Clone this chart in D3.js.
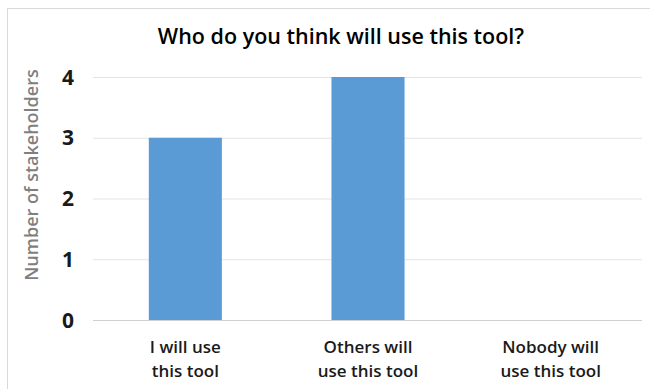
<!DOCTYPE html>
<html><head><meta charset="utf-8">
<script src="https://cdn.jsdelivr.net/npm/d3@7"></script>
<style>body{margin:0;background:#fff;} text{font-family:"Open Sans",sans-serif;}</style>
</head><body><svg id="c" width="650" height="389"></svg>
<script>
const categories = [["I will use","this tool"],["Others will","use this tool"],["Nobody will","use this tool"]];
const values = [3, 4, 0];
const yTicks = [0, 1, 2, 3, 4];
const title = "Who do you think will use this tool?";
const yTitle = "Number of stakeholders";

const svg = d3.select("#c");
svg.append("rect").attr("x",7.5).attr("y",8.5).attr("width",660).attr("height",400)
  .attr("fill","#fff").attr("stroke","#d9d9d9");

const gl = 93, gr = 642, plotTop = 77, plotBot = 320;
const x = d3.scaleBand().domain(d3.range(categories.length)).range([94, 642]).paddingInner(0.6).paddingOuter(0.3);
const y = d3.scaleLinear().domain([0,4]).range([plotBot, plotTop]);

svg.append("g").selectAll("line").data(yTicks).join("line")
  .attr("x1",gl).attr("x2",gr).attr("y1",d=>y(d)+0.5).attr("y2",d=>y(d)+0.5)
  .attr("stroke",d=>d===0?"#d0d0d0":"#e3e3e3").attr("stroke-width",1);

svg.append("g").selectAll("text").data(yTicks).join("text")
  .attr("x",74).attr("y",d=>y(d)).attr("dy","0.36em").attr("text-anchor","end")
  .attr("font-size",21).attr("font-weight","bold").attr("fill","#1a1a1a").text(d=>d);

svg.append("g").selectAll("rect").data(values).join("rect")
  .attr("x",(d,i)=>x(i)).attr("width",x.bandwidth())
  .attr("y",d=>y(d)).attr("height",d=>y(0)-y(d)).attr("fill","#5b9bd5");

const xl = svg.append("g").selectAll("text").data(categories).join("text")
  .attr("x",(d,i)=>x(i)+x.bandwidth()/2).attr("y",353).attr("text-anchor","middle")
  .attr("font-size",17).attr("font-weight","600").attr("fill","#1a1a1a");
xl.selectAll("tspan").data(d=>d).join("tspan")
  .attr("x",function(){return d3.select(this.parentNode).attr("x");})
  .attr("dy",(d,i)=>i===0?0:24).text(d=>d);

svg.append("text").attr("x",341).attr("y",44).attr("text-anchor","middle")
  .attr("font-size",21.5).attr("font-weight","600").attr("fill","#000").text(title);

svg.append("text").attr("transform","translate(38,175) rotate(-90)").attr("text-anchor","middle")
  .attr("font-size",18).attr("font-weight","600").attr("fill","#7f7f7f").text(yTitle);
</script></body></html>
